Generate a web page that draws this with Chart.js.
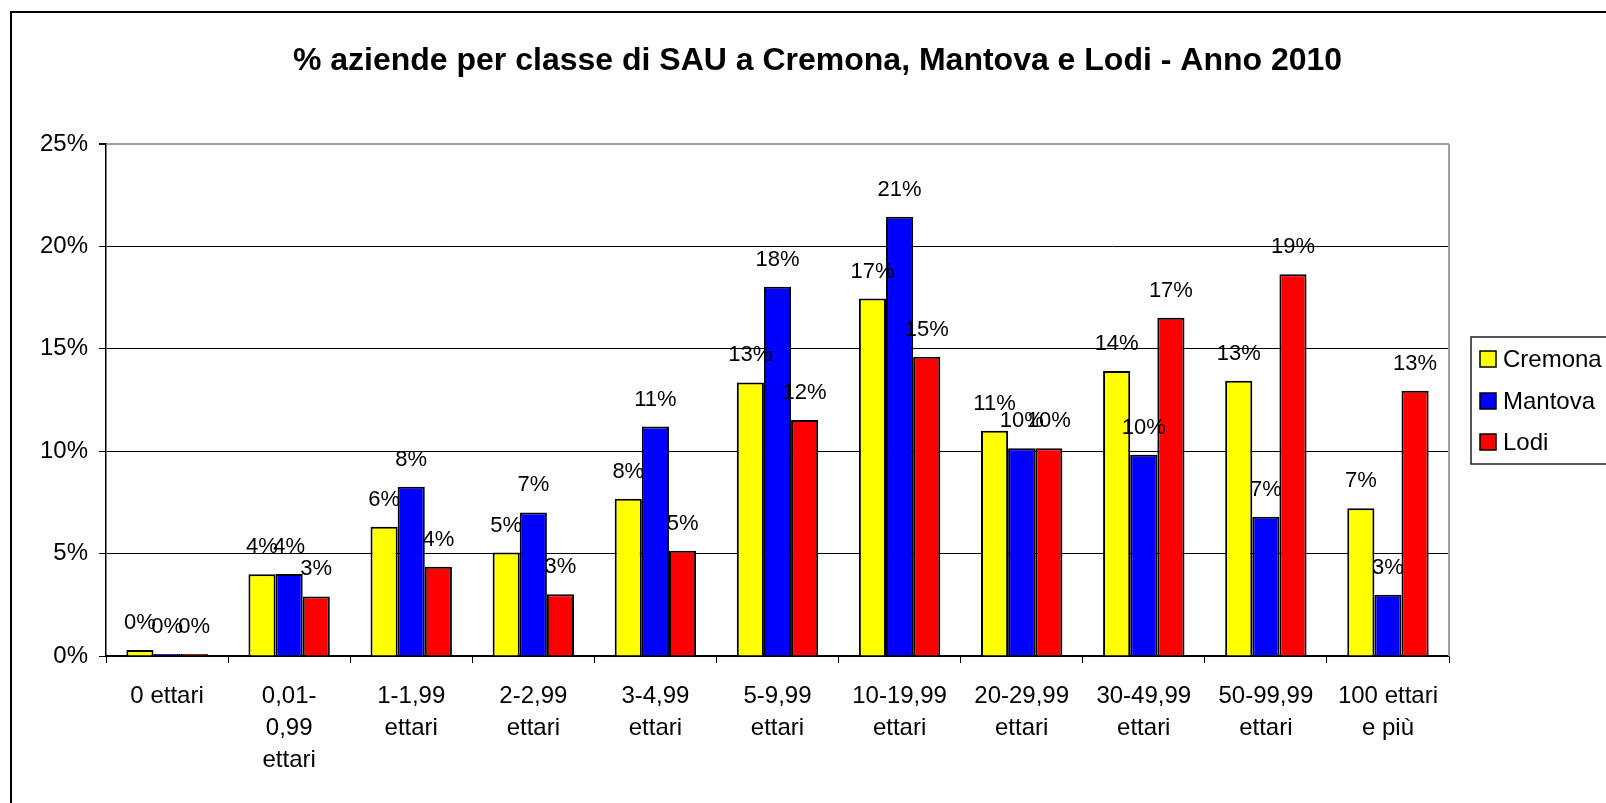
<!DOCTYPE html>
<html>
<head>
<meta charset="utf-8">
<script src="https://cdn.jsdelivr.net/npm/chart.js@4.4.1/dist/chart.umd.min.js"></script>
<style>
  html, body { margin: 0; padding: 0; background: #ffffff; }
  #wrap { width: 1606px; height: 803px; }
</style>
</head>
<body>
<div id="wrap"><canvas id="c" width="1606" height="803"></canvas></div>
<script>
const titleText = '% aziende per classe di SAU a Cremona, Mantova e Lodi - Anno 2010';
const categories = [
  ['0 ettari'],
  ['0,01-', '0,99', 'ettari'],
  ['1-1,99', 'ettari'],
  ['2-2,99', 'ettari'],
  ['3-4,99', 'ettari'],
  ['5-9,99', 'ettari'],
  ['10-19,99', 'ettari'],
  ['20-29,99', 'ettari'],
  ['30-49,99', 'ettari'],
  ['50-99,99', 'ettari'],
  ['100 ettari', 'e più']
];
const seriesNames = ['Cremona', 'Mantova', 'Lodi'];
const cremona = [0.29, 3.99, 6.31, 5.05, 7.68, 13.36, 17.45, 11.0, 13.92, 13.44, 7.21];
const mantova = [0.10, 4.00, 8.27, 7.01, 11.20, 18.03, 21.45, 10.15, 9.83, 6.80, 2.99];
const lodi    = [0.10, 2.91, 4.36, 3.01, 5.14, 11.52, 14.61, 10.15, 16.52, 18.64, 12.95];
const yTicks = [0, 5, 10, 15, 20, 25];

const FONT = "'Liberation Sans', Arial, sans-serif";

const extras = {
  id: 'extras',
  afterDatasetsDraw(chart) {
    const ctx = chart.ctx;
    const area = chart.chartArea;
    ctx.save();
    // plot area right border (gray)
    ctx.strokeStyle = '#a0a0a0';
    ctx.lineWidth = 2;
    ctx.beginPath();
    ctx.moveTo(area.right, area.top);
    ctx.lineTo(area.right, area.bottom);
    ctx.stroke();
    // data labels
    ctx.fillStyle = '#000';
    ctx.font = '22px ' + FONT;
    ctx.textAlign = 'center';
    ctx.textBaseline = 'middle';
    chart.data.datasets.forEach((ds, di) => {
      const meta = chart.getDatasetMeta(di);
      meta.data.forEach((bar, i) => {
        ctx.fillText(Math.round(ds.data[i]) + '%', bar.x, bar.y - 27);
      });
    });
    ctx.restore();
  },
  afterDraw(chart) {
    const ctx = chart.ctx;
    ctx.save();
    // outer chart border
    ctx.strokeStyle = '#000';
    ctx.lineWidth = 2;
    ctx.strokeRect(11, 12, 1700, 900);
    // legend box
    ctx.lineWidth = 1.5;
    ctx.strokeStyle = '#202020';
    ctx.strokeRect(1471, 337, 200, 127);
    ctx.font = '24px ' + FONT;
    ctx.textBaseline = 'middle';
    ctx.textAlign = 'left';
    const rows = [359, 401, 442];
    chart.data.datasets.forEach((ds, di) => {
      const y = rows[di];
      ctx.fillStyle = ds.backgroundColor;
      ctx.fillRect(1480, y - 8, 16, 16);
      ctx.lineWidth = 1.5;
      ctx.strokeStyle = '#000';
      ctx.strokeRect(1480, y - 8, 16, 16);
      ctx.fillStyle = '#000';
      ctx.fillText(ds.label, 1503, y + 1);
    });
    ctx.restore();
  }
};

new Chart(document.getElementById('c'), {
  type: 'bar',
  data: {
    labels: categories,
    datasets: [
      { label: seriesNames[0], data: cremona, backgroundColor: '#FFFF00', borderColor: '#000', borderWidth: 2 },
      { label: seriesNames[1], data: mantova, backgroundColor: '#0000FF', borderColor: '#000', borderWidth: 2 },
      { label: seriesNames[2], data: lodi, backgroundColor: '#FF0000', borderColor: '#000', borderWidth: 2 }
    ]
  },
  options: {
    responsive: false,
    animation: false,
    devicePixelRatio: 1,
    layout: { padding: { left: 29, right: 0, top: 0, bottom: 0 } },
    datasets: { bar: { categoryPercentage: 3 / 4.5, barPercentage: 1.0 } },
    plugins: {
      legend: { display: false },
      tooltip: { enabled: false },
      title: {
        display: true,
        text: titleText,
        color: '#000',
        font: { family: FONT, size: 32, weight: 'bold', lineHeight: 1.2 },
        padding: { top: 42.3, bottom: 63.3 }
      }
    },
    scales: {
      x: {
        offset: true,
        grid: { offset: true, drawOnChartArea: false, drawTicks: true, tickLength: 7, color: '#000', lineWidth: 1 },
        border: { color: '#000', width: 1.5 },
        ticks: {
          color: '#000', autoSkip: false, maxRotation: 0, minRotation: 0, padding: 17,
          font: { family: FONT, size: 24, lineHeight: 1.34 }
        },
        afterFit(s) { s.height = 803 - 656; }
      },
      y: {
        min: 0, max: 25,
        afterBuildTicks(s) { s.ticks = yTicks.map(v => ({ value: v })); },
        grid: {
          color: (c) => (c.tick && c.tick.value === 25) ? '#a0a0a0' : '#000',
          lineWidth: (c) => (c.tick && c.tick.value === 25) ? 2 : 1,
          tickColor: '#000', tickLength: 7
        },
        border: { color: '#000', width: 1.5 },
        ticks: {
          color: '#000', padding: 11,
          font: { family: FONT, size: 24 },
          callback: (v) => v + '%'
        },
        afterFit(s) { s.width = 106 - 29; }
      },
      yr: {
        position: 'right',
        display: true,
        grid: { display: false, drawTicks: false },
        border: { display: false },
        ticks: { display: false },
        afterFit(s) { s.width = 1606 - 1449; }
      }
    }
  },
  plugins: [extras]
});
</script>
</body>
</html>
